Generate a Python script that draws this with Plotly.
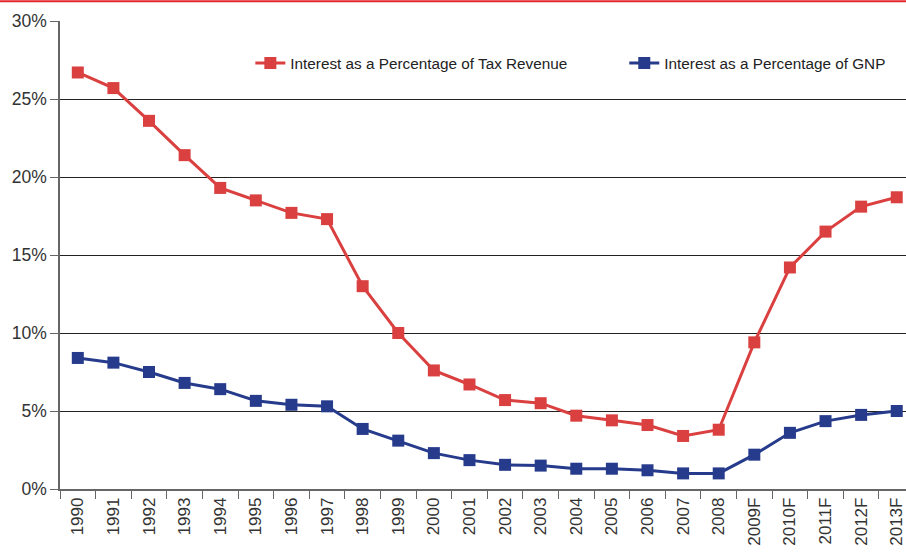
import plotly.graph_objects as go

# categorias e séries
anos = ["1990", "1991", "1992", "1993", "1994", "1995", "1996", "1997", "1998",
        "1999", "2000", "2001", "2002", "2003", "2004", "2005", "2006", "2007",
        "2008", "2009F", "2010F", "2011F", "2012F", "2013F"]
pct_receita = [26.7, 25.7, 23.6, 21.4, 19.3, 18.5, 17.7, 17.3, 13.0, 10.0, 7.6, 6.7,
               5.7, 5.5, 4.7, 4.4, 4.1, 3.4, 3.8, 9.4, 14.2, 16.5, 18.1, 18.7]
pct_gnp = [8.4, 8.1, 7.5, 6.8, 6.4, 5.65, 5.4, 5.3, 3.85, 3.1, 2.3, 1.85,
           1.55, 1.5, 1.3, 1.3, 1.2, 1.0, 1.0, 2.2, 3.6, 4.35, 4.75, 5.0]
y_ticks = [0, 5, 10, 15, 20, 25, 30]
y_labels = [f"{v}%" for v in y_ticks]

vermelho = "#d9403f"
azul = "#263b8b"

fig = go.Figure()
fig.add_trace(go.Scatter(
    x=anos, y=pct_receita, mode="lines+markers",
    name="Interest as a Percentage of Tax Revenue",
    line=dict(color=vermelho, width=3),
    marker=dict(symbol="square", size=12, color=vermelho),
    legend="legend",
))
fig.add_trace(go.Scatter(
    x=anos, y=pct_gnp, mode="lines+markers",
    name="Interest as a Percentage of GNP",
    line=dict(color=azul, width=3),
    marker=dict(symbol="square", size=12, color=azul),
    legend="legend2",
))

# linha vermelha no topo
fig.add_shape(type="line", xref="paper", yref="paper",
              x0=-0.08, x1=1.0, y0=1.042, y1=1.042,
              line=dict(color="#e52629", width=2))

leg = dict(
    orientation="h", y=0.91, xanchor="left", yanchor="middle",
    font=dict(size=15.3, color="#222"), bgcolor="rgba(0,0,0,0)",
    itemwidth=30,
)

fig.update_layout(
    width=906, height=552,
    margin=dict(l=60, r=0, t=21, b=63),
    paper_bgcolor="white", plot_bgcolor="white",
    font=dict(family="Liberation Sans, Arial, sans-serif", color="#222"),
    showlegend=True,
    legend=dict(leg, x=0.225),
    legend2=dict(leg, x=0.667),
    xaxis=dict(
        type="category", range=[-0.5, 23.26],
        tickangle=-90, tickfont=dict(size=17, color="#333"),
        ticks="outside", ticklen=8, tickcolor="#666", tickson="boundaries",
        showline=True, linecolor="#666", linewidth=1.5,
        showgrid=False,
    ),
    yaxis=dict(
        range=[0, 30], tickvals=y_ticks, ticktext=y_labels,
        tickfont=dict(size=17.5, color="#333"),
        ticks="outside", ticklen=8, tickcolor="#666",
        showline=True, linecolor="#666", linewidth=1.5,
        showgrid=True, gridcolor="#222", gridwidth=1,
        zeroline=False,
    ),
)

fig.write_html("out.html", config={"displayModeBar": False},
               post_script="document.body.style.margin='0';")
